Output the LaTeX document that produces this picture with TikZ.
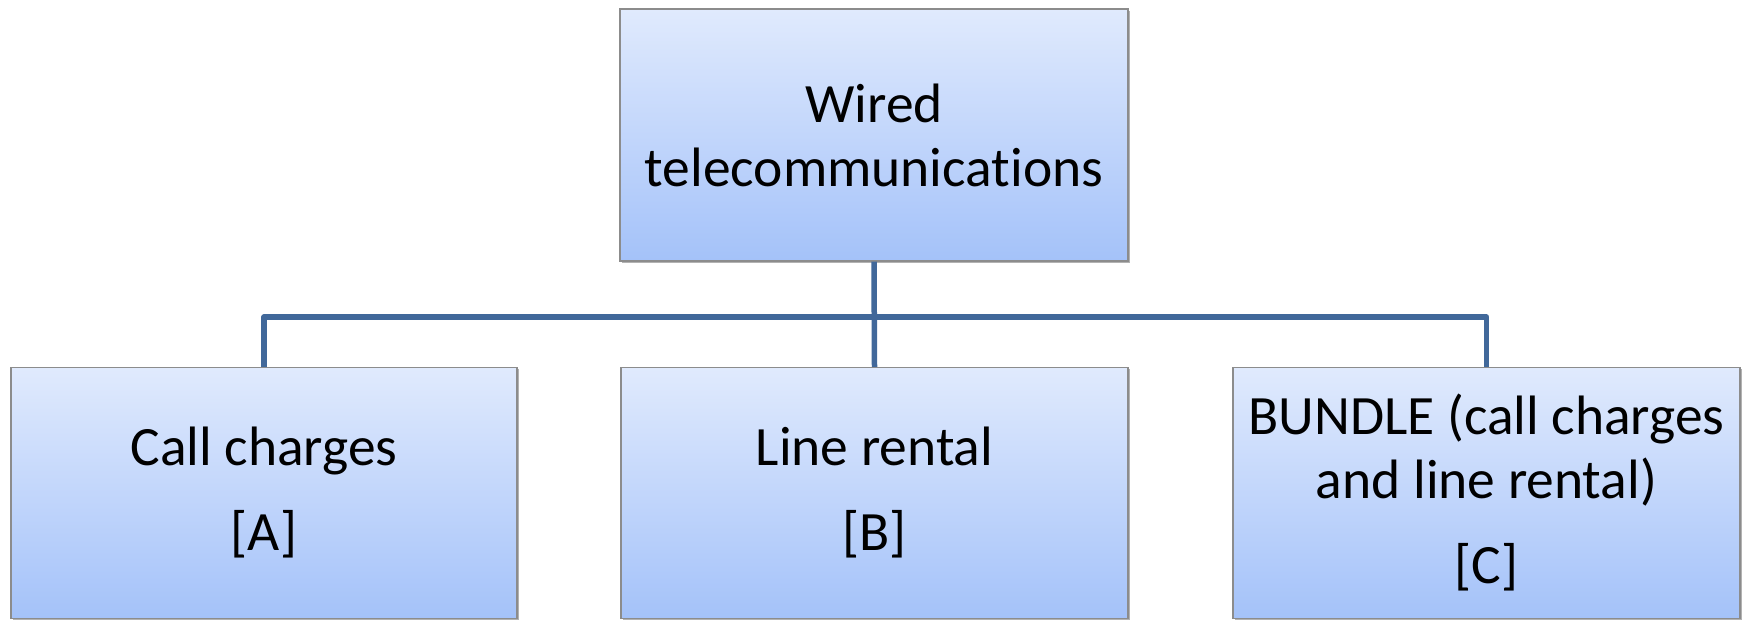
\documentclass[tikz,border=0pt]{standalone}
\usepackage{fontspec}
\setmainfont{Carlito}[Ligatures=CommonOff]
\usetikzlibrary{shadows}
\definecolor{boxtop}{HTML}{E0EAFD}
\definecolor{boxbot}{HTML}{A4C2F9}
\definecolor{boxline}{HTML}{8C8C8C}
\definecolor{conn}{HTML}{41689A}
\tikzset{
  orgbox/.style={draw=boxline, line width=1.2pt, top color=boxtop, bottom color=boxbot,
    minimum height=251pt, inner sep=0pt, align=center,
    font=\fontsize{55.5}{64}\selectfont,
    drop shadow={shadow xshift=2pt, shadow yshift=-2pt, opacity=0.3, fill=black}},
  connector/.style={draw=conn, line width=5.5pt, line join=round}
}
\begin{document}
\begin{tikzpicture}[x=1pt,y=1pt]
\useasboundingbox (0,0) rectangle (1743,620);
\node[orgbox, minimum width=508pt, minimum height=252pt] (top) at (874,485) {Wired\\telecommunications};
\node[orgbox, minimum width=506pt] (left) at (264,127) {Call charges\\[21pt][A]};
\node[orgbox, minimum width=507pt] (mid) at (874.5,127) {Line rental\\[21pt][B]};
\node[orgbox, minimum width=507pt] (right) at (1486.5,127) {BUNDLE (call charges\\and line rental)\\[21pt][C]};
\coordinate (bus) at (874,303);
\draw[connector] (top.south) -- (mid.north);
\draw[connector] (left.north) -- (left.north |- bus) -- (right.north |- bus) -- (right.north);
\end{tikzpicture}
\end{document}
